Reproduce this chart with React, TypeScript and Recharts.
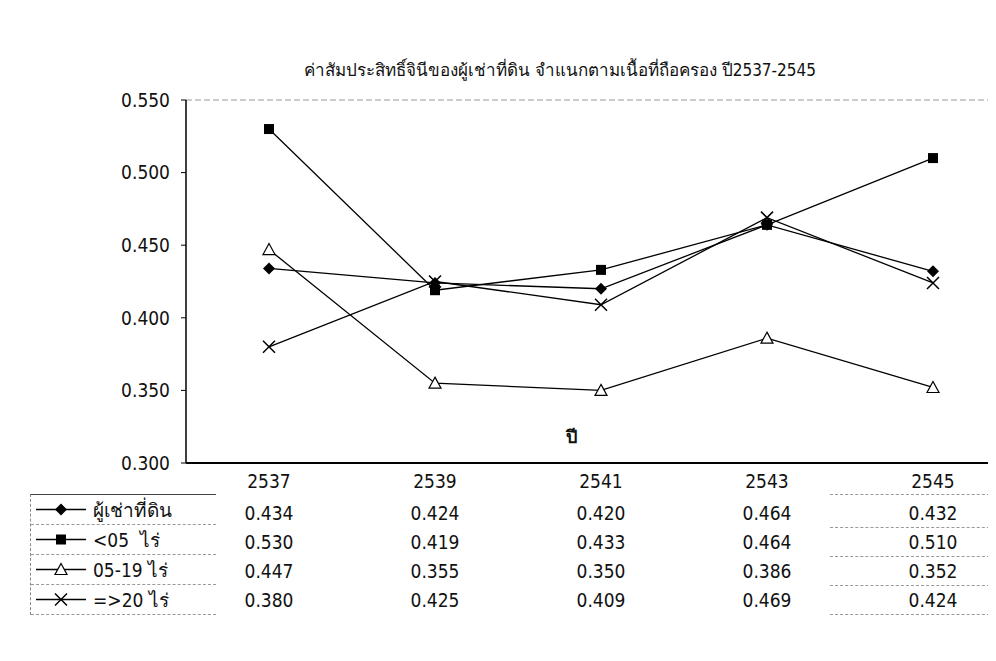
import React from "react";
import { LineChart, Line, XAxis, YAxis, ReferenceLine } from "recharts";

const years = ["2537", "2539", "2541", "2543", "2545"];
const tenants = [0.434, 0.424, 0.42, 0.464, 0.432];
const under5 = [0.53, 0.419, 0.433, 0.464, 0.51];
const from5to19 = [0.447, 0.355, 0.35, 0.386, 0.352];
const over20 = [0.38, 0.425, 0.409, 0.469, 0.424];
const yTicks = [0.3, 0.35, 0.4, 0.45, 0.5, 0.55];

const seriesDefs = [
  { key: "tenants", name: "ผู้เช่าที่ดิน", values: tenants, shape: "diamond" },
  { key: "under5", name: "<05  ไร่", values: under5, shape: "square" },
  { key: "from5to19", name: "05-19 ไร่", values: from5to19, shape: "triangle" },
  { key: "over20", name: "=>20 ไร่", values: over20, shape: "cross" },
];

const data = years.map((y, i) => {
  const row: Record<string, string | number> = { year: y };
  seriesDefs.forEach((s) => (row[s.key] = s.values[i]));
  return row;
});

const FONT = "'DejaVu Sans Condensed', 'DejaVu Sans', 'Noto Sans', sans-serif";

function Marker({ shape, cx, cy }: { shape: string; cx: number; cy: number }) {
  if (shape === "diamond")
    return <path d={`M${cx},${cy - 6}L${cx + 6},${cy}L${cx},${cy + 6}L${cx - 6},${cy}Z`} fill="#000" />;
  if (shape === "square") return <rect x={cx - 5} y={cy - 5} width={10} height={10} fill="#000" />;
  if (shape === "triangle")
    return (
      <path
        d={`M${cx},${cy - 6}L${cx + 6},${cy + 5}L${cx - 6},${cy + 5}Z`}
        fill="#fff"
        stroke="#000"
        strokeWidth={1.2}
      />
    );
  return (
    <path d={`M${cx - 6},${cy - 6}L${cx + 6},${cy + 6}M${cx + 6},${cy - 6}L${cx - 6},${cy + 6}`} stroke="#000" strokeWidth={1.5} />
  );
}

const makeDot = (shape: string) => (p: any) =>
  p.cx == null ? <g key={p.key} /> : <Marker key={p.key} shape={shape} cx={p.cx} cy={p.cy} />;

const rowOffsets = [50, 79, 108, 137];

function TableTick(props: any) {
  const { x, y, payload } = props;
  const i = payload.index;
  return (
    <g fontFamily={FONT} fontSize={19} fill="#111">
      <text x={x} y={y + 18} textAnchor="middle" dominantBaseline="central">
        {payload.value}
      </text>
      {seriesDefs.map((s, r) => (
        <text key={s.key} x={x} y={y + rowOffsets[r]} textAnchor="middle" dominantBaseline="central">
          {s.values[i].toFixed(3)}
        </text>
      ))}
    </g>
  );
}

function TableLegend() {
  return (
    <div style={{ width: 185, borderTop: "1.5px solid #444", borderLeft: "1px dashed #888" }}>
      {seriesDefs.map((s) => (
        <div
          key={s.key}
          style={{ display: "flex", alignItems: "center", height: 29, borderBottom: "1px dashed #999", fontSize: 19, color: "#111" }}
        >
          <svg width={60} height={29}>
            <line x1={5} x2={55} y1={14.5} y2={14.5} stroke="#000" strokeWidth={1.5} />
            <Marker shape={s.shape} cx={30} cy={14.5} />
          </svg>
          <span style={{ marginLeft: 2, whiteSpace: "pre" }}>{s.name}</span>
        </div>
      ))}
    </div>
  );
}

export default function App() {
  return (
    <div style={{ position: "relative", width: 988, height: 645, overflow: "hidden", fontFamily: FONT, background: "#fff" }}>
      <div
        style={{
          position: "absolute",
          top: 48,
          left: 0,
          width: 1104,
          textAlign: "center",
          fontSize: 17,
          color: "#111",
        }}
      >
        ค่าสัมประสิทธิ์จินีของผู้เช่าที่ดิน จำแนกตามเนื้อที่ถือครอง ปี2537-2545
      </div>
      <LineChart width={1040} height={645} data={data} margin={{ top: 92, right: 32, left: 98, bottom: 30 }}>
        <ReferenceLine y={0.55} stroke="#999" strokeDasharray="6 3" />
        <XAxis
          dataKey="year"
          height={160}
          padding={{ left: 83, right: 83 }}
          axisLine={{ stroke: "#000", strokeWidth: 2 }}
          tickLine={false}
          tickSize={0}
          tickMargin={0}
          tick={<TableTick />}
          interval={0}
        />
        <YAxis
          width={80}
          domain={[0.3, 0.55]}
          ticks={yTicks}
          tickFormatter={(v: number) => v.toFixed(3)}
          axisLine={{ stroke: "#000", strokeWidth: 1.5 }}
          tickLine={{ stroke: "#000" }}
          tickSize={5}
          tickMargin={11}
          tick={{ fill: "#111", fontSize: 19, fontFamily: FONT }}
        />
        {seriesDefs.map((s) => (
          <Line
            key={s.key}
            dataKey={s.key}
            name={s.name}
            stroke="#000"
            strokeWidth={1.3}
            dot={makeDot(s.shape)}
            activeDot={false}
            isAnimationActive={false}
            type="linear"
          />
        ))}
      </LineChart>
      <div style={{ position: "absolute", left: 558, top: 414, fontSize: 18, fontWeight: "bold", color: "#111" }}>ปี</div>
      {[486, 519, 548, 577, 606].map((t) => (
        <div key={t} style={{ position: "absolute", left: 822, width: 170, top: t, borderTop: "1px dashed #999" }} />
      ))}
      <div style={{ position: "absolute", left: 22, top: 486 }}>
        <TableLegend />
      </div>
    </div>
  );
}
